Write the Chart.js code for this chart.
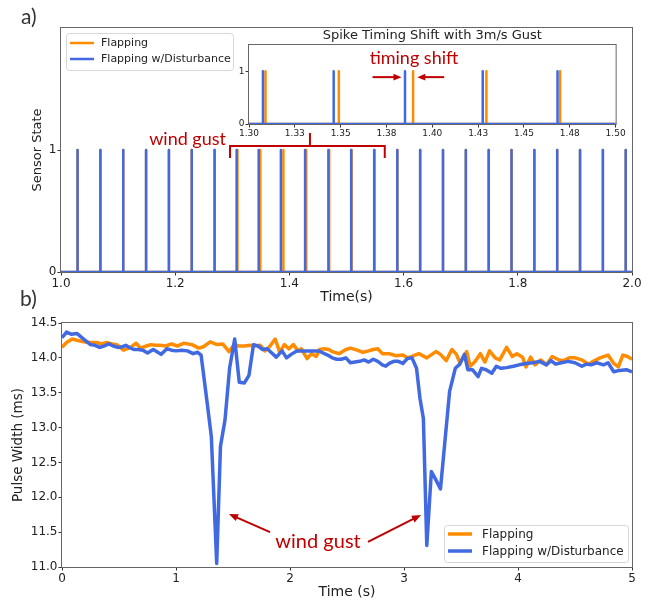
<!DOCTYPE html>
<html>
<head>
<meta charset="utf-8">
<title>Spike timing and pulse width</title>
<script src="https://cdn.jsdelivr.net/npm/chart.js@4.4.1/dist/chart.umd.min.js"></script>
<style>
  body { margin: 0; background: #fff; }
  #wrap { position: relative; width: 651px; height: 601px; overflow: hidden; }
  canvas { position: absolute; }
  .panel { position: absolute; font-family: Lato, "Open Sans", sans-serif; font-size: 21px; color: #333; }
</style>
</head>
<body>
<div id="wrap">
  <canvas id="topChart" width="651" height="306" style="left:0;top:0"></canvas>
  <canvas id="insetChart" width="410" height="118" style="left:220px;top:26px"></canvas>
  <canvas id="bottomChart" width="651" height="301" style="left:0;top:300px"></canvas>
  <div class="panel" style="left:21px;top:3px">a)</div>
  <div class="panel" style="left:20px;top:285px">b)</div>
</div>
<script>
// ---------- data ----------
const seriesNames = ["Flapping", "Flapping w/Disturbance"];

// a) spike times (s)
const spikesFlapping = [1.029, 1.069, 1.109, 1.149, 1.189, 1.229, 1.269, 1.309, 1.349, 1.3895,
  1.4295, 1.4697, 1.509, 1.549, 1.589, 1.629, 1.669, 1.709, 1.749, 1.789, 1.829, 1.869, 1.909,
  1.949, 1.989];
const spikesDisturbance = [1.029, 1.069, 1.109, 1.149, 1.189, 1.229, 1.269, 1.3076, 1.3462, 1.3851,
  1.4275, 1.4683, 1.5082, 1.5485, 1.589, 1.629, 1.669, 1.709, 1.749, 1.789, 1.829, 1.869, 1.909,
  1.949, 1.989];

const topXTicks = [1.0, 1.2, 1.4, 1.6, 1.8, 2.0];
const topYTicks = [0, 1];
const insetXTicks = [1.30, 1.325, 1.35, 1.375, 1.40, 1.425, 1.45, 1.475, 1.50];
const insetXLabels = ["1.30", "1.33", "1.35", "1.38", "1.40", "1.43", "1.45", "1.48", "1.50"];
const insetYTicks = [0, 1];

// b) pulse width (ms) over time (s)
const timeFlapping = [0.00, 0.04, 0.09, 0.14, 0.19, 0.24, 0.30, 0.35, 0.39, 0.44, 0.48, 0.54, 0.60,
  0.65, 0.69, 0.74, 0.78, 0.82, 0.86, 0.91, 0.96, 1.01, 1.07, 1.14, 1.20, 1.24, 1.30, 1.36, 1.41,
  1.465, 1.51, 1.55, 1.60, 1.65, 1.69, 1.74, 1.78, 1.82, 1.87, 1.91, 1.95, 1.99, 2.03, 2.07, 2.10,
  2.15, 2.19, 2.23, 2.26, 2.30, 2.34, 2.37, 2.43, 2.49, 2.53, 2.59, 2.64, 2.69, 2.73, 2.77, 2.81,
  2.87, 2.93, 2.99, 3.03, 3.07, 3.13, 3.20, 3.28, 3.32, 3.37, 3.42, 3.46, 3.49, 3.55, 3.58, 3.62,
  3.67, 3.71, 3.75, 3.80, 3.84, 3.90, 3.95, 3.99, 4.04, 4.07, 4.11, 4.15, 4.20, 4.25, 4.30, 4.36,
  4.40, 4.45, 4.50, 4.56, 4.62, 4.66, 4.72, 4.79, 4.84, 4.88, 4.92, 4.96, 5.00];
const pwFlapping = [14.15, 14.22, 14.27, 14.25, 14.23, 14.22, 14.22, 14.20, 14.22, 14.20, 14.19,
  14.11, 14.15, 14.21, 14.14, 14.17, 14.19, 14.18, 14.18, 14.17, 14.20, 14.17, 14.21, 14.19, 14.14,
  14.16, 14.23, 14.19, 14.20, 14.09, 14.19, 14.17, 14.17, 14.18, 14.17, 14.18, 14.10, 14.16, 14.27,
  14.08, 14.19, 14.13, 14.19, 14.10, 14.13, 13.99, 14.06, 14.02, 14.12, 14.13, 14.12, 14.09, 14.06,
  14.12, 14.14, 14.11, 14.08, 14.10, 14.12, 14.13, 14.06, 14.06, 14.03, 14.04, 14.00, 14.02, 14.06,
  14.00, 14.09, 14.05, 13.96, 14.12, 14.05, 13.93, 14.09, 13.88, 13.94, 14.06, 13.94, 14.10, 14.00,
  13.97, 14.15, 14.02, 14.06, 14.01, 13.87, 14.01, 13.90, 13.97, 13.90, 14.02, 13.97, 13.96, 14.00,
  14.00, 13.97, 13.91, 13.95, 14.00, 14.04, 13.92, 13.87, 14.04, 14.02, 13.98];

const timeDisturbance = [0.00, 0.04, 0.08, 0.13, 0.19, 0.25, 0.29, 0.33, 0.37, 0.41, 0.45, 0.49,
  0.53, 0.56, 0.59, 0.63, 0.67, 0.71, 0.75, 0.80, 0.84, 0.87, 0.92, 0.96, 1.00, 1.05, 1.10, 1.15,
  1.19, 1.22, 1.27, 1.31, 1.357, 1.39, 1.43, 1.47, 1.515, 1.555, 1.60, 1.64, 1.68, 1.72, 1.76, 1.80,
  1.84, 1.88, 1.93, 1.97, 2.01, 2.06, 2.11, 2.16, 2.21, 2.25, 2.29, 2.33, 2.37, 2.41, 2.45, 2.49,
  2.53, 2.57, 2.61, 2.65, 2.69, 2.73, 2.77, 2.81, 2.84, 2.87, 2.91, 2.95, 2.99, 3.03, 3.07, 3.11,
  3.14, 3.17, 3.20, 3.24, 3.28, 3.32, 3.40, 3.45, 3.49, 3.53, 3.56, 3.60, 3.65, 3.68, 3.72, 3.77,
  3.81, 3.85, 3.90, 3.96, 4.01, 4.07, 4.13, 4.19, 4.25, 4.29, 4.33, 4.38, 4.44, 4.50, 4.56, 4.60,
  4.64, 4.69, 4.75, 4.79, 4.84, 4.89, 4.95, 5.00];
const pwDisturbance = [14.29, 14.37, 14.34, 14.35, 14.27, 14.19, 14.18, 14.15, 14.17, 14.20, 14.17,
  14.15, 14.16, 14.18, 14.15, 14.12, 14.12, 14.11, 14.07, 14.12, 14.08, 14.05, 14.13, 14.11, 14.10,
  14.11, 14.10, 14.06, 14.08, 14.04, 13.40, 12.87, 11.05, 12.73, 13.11, 13.85, 14.27, 13.65, 13.64,
  13.75, 14.19, 14.17, 14.12, 14.13, 14.07, 14.01, 14.10, 14.00, 14.05, 14.10, 14.10, 14.10, 14.10,
  14.10, 14.07, 14.04, 14.00, 13.98, 13.98, 14.00, 13.93, 13.94, 13.95, 13.97, 13.94, 13.98, 13.95,
  13.90, 13.88, 13.92, 13.95, 13.95, 13.92, 13.99, 14.00, 13.85, 13.42, 13.13, 11.31, 12.37, 12.25,
  12.12, 13.52, 13.85, 13.91, 14.05, 13.83, 13.83, 13.73, 13.85, 13.83, 13.78, 13.88, 13.85, 13.86,
  13.88, 13.90, 13.92, 13.93, 13.95, 13.90, 13.96, 13.91, 13.93, 13.95, 13.93, 13.88, 13.91, 13.90,
  13.93, 13.90, 13.93, 13.80, 13.82, 13.83, 13.80];

const bottomXTicks = [0, 1, 2, 3, 4, 5];
const bottomYTicks = [11.0, 11.5, 12.0, 12.5, 13.0, 13.5, 14.0, 14.5];

// ---------- styles ----------
const orange = "#ff8c00";
const blue = "#4169e1";
const red = "#c00000";
const spine = "#666";
const textColor = "#222";

Chart.defaults.font.family = "'DejaVu Sans', sans-serif";
Chart.defaults.color = textColor;

// square wave: 0 everywhere, 1 at every spike time
function spikeTrain(times, x0, x1) {
  const pts = [{ x: x0, y: 0 }];
  times.forEach(function (t) {
    pts.push({ x: t, y: 0 }, { x: t, y: 1 }, { x: t, y: 0 });
  });
  pts.push({ x: x1, y: 0 });
  return pts;
}

function pairs(xs, ys) {
  return xs.map(function (x, i) { return { x: x, y: ys[i] }; });
}

function fixedTicks(values) {
  return function (scale) {
    scale.ticks = values.map(function (v) { return { value: v }; });
  };
}

// matplotlib style box around the plot area
const framePlugin = {
  id: "frame",
  beforeDatasetsDraw: function (chart) {
    const a = chart.chartArea;
    const ctx = chart.ctx;
    ctx.save();
    ctx.strokeStyle = spine;
    ctx.lineWidth = 1;
    ctx.strokeRect(a.left - 0.5, a.top - 0.5, a.right - a.left + 1, a.bottom - a.top + 1);
    ctx.restore();
  }
};

function drawLegend(ctx, x, y, w, h, size, lw, rowY, textX) {
  ctx.save();
  ctx.beginPath();
  ctx.roundRect(x + 0.5, y + 0.5, w, h, 3);
  ctx.fillStyle = "rgba(255,255,255,0.85)";
  ctx.fill();
  ctx.strokeStyle = "#d6d6d6";
  ctx.lineWidth = 1;
  ctx.stroke();
  const colors = [orange, blue];
  ctx.font = size + "px 'DejaVu Sans', sans-serif";
  ctx.textBaseline = "middle";
  seriesNames.forEach(function (name, i) {
    const yy = y + rowY[i];
    ctx.strokeStyle = colors[i];
    ctx.lineWidth = lw;
    ctx.beginPath();
    ctx.moveTo(x + 4, yy);
    ctx.lineTo(x + 28, yy);
    ctx.stroke();
    ctx.fillStyle = textColor;
    ctx.fillText(name, x + textX, yy + 0.5);
  });
  ctx.restore();
}

function arrow(ctx, x0, y0, x1, y1, head) {
  const ang = Math.atan2(y1 - y0, x1 - x0);
  const c = Math.cos(ang), s = Math.sin(ang);
  ctx.beginPath();
  ctx.moveTo(x0, y0);
  ctx.lineTo(x1 - c * head * 0.7, y1 - s * head * 0.7);
  ctx.stroke();
  ctx.beginPath();
  ctx.moveTo(x1, y1);
  ctx.lineTo(x1 - head * c + head * 0.42 * s, y1 - head * s - head * 0.42 * c);
  ctx.lineTo(x1 - head * c - head * 0.42 * s, y1 - head * s + head * 0.42 * c);
  ctx.closePath();
  ctx.fill();
}

function axis(min, max, ticks, cb, opts) {
  return Object.assign({
    type: "linear",
    min: min,
    max: max,
    afterBuildTicks: fixedTicks(ticks),
    ticks: { callback: cb, autoSkip: false, maxRotation: 0, font: { size: 12 }, padding: 1 },
    grid: { drawOnChartArea: false, drawTicks: true, tickLength: 3.5, color: "#333" },
    border: { display: false }
  }, opts);
}

function lineSet(label, data, color, width, order) {
  return {
    label: label,
    data: data,
    borderColor: color,
    borderWidth: width,
    pointRadius: 0,
    tension: 0,
    fill: false,
    order: order,
    borderJoinStyle: "round"
  };
}

// ---------- a) sensor state ----------
new Chart(document.getElementById("topChart"), {
  type: "line",
  data: {
    datasets: [
      lineSet(seriesNames[0], spikeTrain(spikesFlapping, 1.0, 2.0), orange, 2.5, 2),
      lineSet(seriesNames[1], spikeTrain(spikesDisturbance, 1.0, 2.0), blue, 2.5, 1)
    ]
  },
  options: {
    responsive: false,
    animation: false,
    layout: { padding: { left: 30, right: 19, top: 28, bottom: 0 } },
    plugins: { legend: { display: false }, tooltip: { enabled: false } },
    scales: {
      x: axis(1.0, 2.0, topXTicks, function (v) { return v.toFixed(1); }, {
        title: { display: true, text: "Time(s)", font: { size: 14 }, padding: 0 },
        afterFit: function (s) { s.height = 34; }
      }),
      y: axis(0, 2.0, topYTicks, function (v) { return String(v); }, {
        title: { display: true, text: "Sensor State", font: { size: 13 }, padding: 0 },
        afterFit: function (s) { s.width = 31; }
      })
    }
  },
  plugins: [framePlugin, {
    id: "notesTop",
    afterDraw: function (chart) {
      const ctx = chart.ctx, x = chart.scales.x, y = chart.scales.y;
      const a = chart.chartArea;
      drawLegend(ctx, a.left + 5, a.top + 5, 167, 37, 11, 2.5, [10, 26], 35);

      // bracket over the gust
      const xl = x.getPixelForValue(1.296), xr = x.getPixelForValue(1.567), xm = x.getPixelForValue(1.436);
      const yb = y.getPixelForValue(1.033);
      ctx.save();
      ctx.strokeStyle = red;
      ctx.lineWidth = 2;
      ctx.beginPath();
      ctx.moveTo(xl, y.getPixelForValue(0.934));
      ctx.lineTo(xl, yb);
      ctx.lineTo(xr, yb);
      ctx.lineTo(xr, y.getPixelForValue(0.934));
      ctx.moveTo(xm, yb);
      ctx.lineTo(xm, y.getPixelForValue(1.14));
      ctx.stroke();
      ctx.fillStyle = red;
      ctx.font = "18px Lato, 'Open Sans', sans-serif";
      ctx.textAlign = "right";
      ctx.textBaseline = "middle";
      ctx.fillText("wind gust", xl - 4, y.getPixelForValue(1.09));
      ctx.restore();
    }
  }]
});

// ---------- a) inset ----------
new Chart(document.getElementById("insetChart"), {
  type: "line",
  data: {
    datasets: [
      lineSet(seriesNames[0], spikeTrain(spikesFlapping, 1.0, 2.0), orange, 2.5, 2),
      lineSet(seriesNames[1], spikeTrain(spikesDisturbance, 1.0, 2.0), blue, 2.5, 1)
    ]
  },
  options: {
    responsive: false,
    animation: false,
    layout: { padding: { left: 0, right: 13, top: 19, bottom: 0 } },
    plugins: { legend: { display: false }, tooltip: { enabled: false } },
    scales: {
      x: axis(1.30, 1.50, insetXTicks, function (v, i) { return insetXLabels[i]; }, {
        afterFit: function (s) { s.height = 20; }
      }),
      y: axis(0, 1.5, insetYTicks, function (v) { return String(v); }, {
        afterFit: function (s) { s.width = 29; }
      })
    }
  },
  plugins: [framePlugin, {
    id: "notesInset",
    beforeDraw: function (chart) {
      chart.options.scales.x.ticks.font.size = 9;
      chart.options.scales.y.ticks.font.size = 9;
    },
    afterDraw: function (chart) {
      const ctx = chart.ctx, x = chart.scales.x, y = chart.scales.y;
      const a = chart.chartArea;
      ctx.save();
      ctx.fillStyle = textColor;
      ctx.font = "13px 'DejaVu Sans', sans-serif";
      ctx.textAlign = "center";
      ctx.textBaseline = "middle";
      ctx.fillText("Spike Timing Shift with 3m/s Gust", (a.left + a.right) / 2, a.top - 9);

      ctx.fillStyle = red;
      ctx.strokeStyle = red;
      ctx.lineWidth = 2;
      ctx.font = "18px Lato, 'Open Sans', sans-serif";
      ctx.fillText("timing shift", x.getPixelForValue(1.390), y.getPixelForValue(1.25));
      const ya = y.getPixelForValue(0.89);
      arrow(ctx, x.getPixelForValue(1.3674), ya, x.getPixelForValue(1.3832), ya, 8);
      arrow(ctx, x.getPixelForValue(1.4065), ya, x.getPixelForValue(1.3918), ya, 8);
      ctx.restore();
    }
  }]
});

// ---------- b) pulse width ----------
new Chart(document.getElementById("bottomChart"), {
  type: "line",
  data: {
    datasets: [
      lineSet(seriesNames[0], pairs(timeFlapping, pwFlapping), orange, 3.5, 2),
      lineSet(seriesNames[1], pairs(timeDisturbance, pwDisturbance), blue, 3.5, 1)
    ]
  },
  options: {
    responsive: false,
    animation: false,
    layout: { padding: { left: 10, right: 19, top: 23, bottom: 0 } },
    plugins: { legend: { display: false }, tooltip: { enabled: false } },
    scales: {
      x: axis(0, 5, bottomXTicks, function (v) { return String(v); }, {
        title: { display: true, text: "Time (s)", font: { size: 14 }, padding: 0 },
        afterFit: function (s) { s.height = 34; }
      }),
      y: axis(11, 14.5, bottomYTicks, function (v) { return v.toFixed(1); }, {
        title: { display: true, text: "Pulse Width (ms)", font: { size: 13.5 }, padding: 0 },
        afterFit: function (s) { s.width = 52; }
      })
    }
  },
  plugins: [framePlugin, {
    id: "notesBottom",
    afterDraw: function (chart) {
      const ctx = chart.ctx, x = chart.scales.x, y = chart.scales.y;
      const a = chart.chartArea;
      drawLegend(ctx, a.right - 188, a.bottom - 42, 184, 37, 12, 3.5, [9, 26], 38);

      ctx.save();
      ctx.fillStyle = red;
      ctx.strokeStyle = red;
      ctx.lineWidth = 2;
      ctx.font = "20px Lato, 'Open Sans', sans-serif";
      ctx.textAlign = "center";
      ctx.textBaseline = "middle";
      ctx.fillText("wind gust", x.getPixelForValue(2.246), y.getPixelForValue(11.37));
      arrow(ctx, x.getPixelForValue(1.825), y.getPixelForValue(11.50),
        x.getPixelForValue(1.465), y.getPixelForValue(11.76), 9);
      arrow(ctx, x.getPixelForValue(2.684), y.getPixelForValue(11.36),
        x.getPixelForValue(3.149), y.getPixelForValue(11.745), 9);
      ctx.restore();
    }
  }]
});
</script>
</body>
</html>
